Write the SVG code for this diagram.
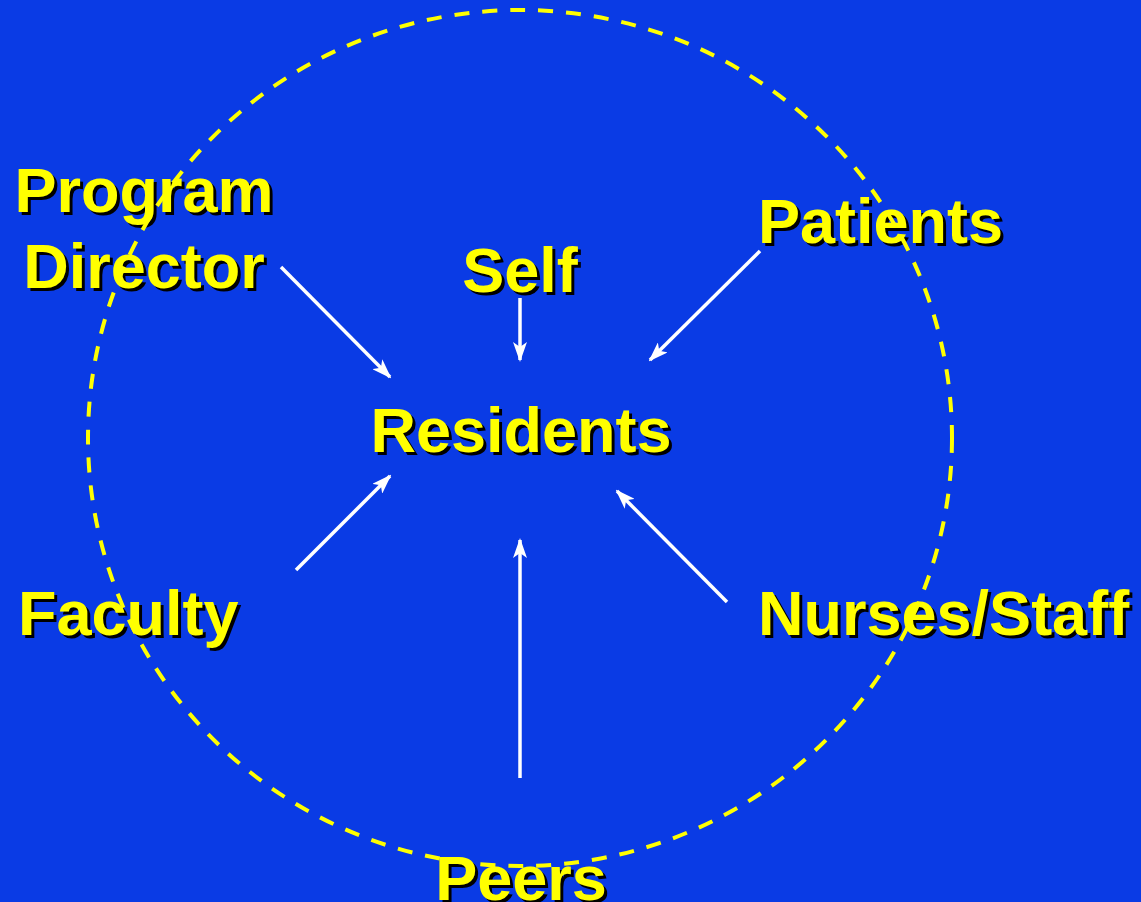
<svg xmlns="http://www.w3.org/2000/svg" width="1141" height="902" viewBox="0 0 1141 902">
<style>
.t{font-family:"Liberation Sans",Arial,sans-serif;font-weight:bold;font-size:63px;}
.sh{fill:#000000;}
.fg{fill:#FFFF00;}
.c{fill:none;stroke:#FFFFFF;stroke-width:3.5;marker-end:url(#ah);}
</style>
<defs>
<marker id="ah" viewBox="0 0 20 14" refX="18" refY="7" markerWidth="20" markerHeight="14" markerUnits="userSpaceOnUse" orient="auto">
<path d="M0,0 L20,7 L0,14 L5,7 Z" fill="#FFFFFF"/>
</marker>
</defs>
<rect width="1141" height="902" fill="#0A3BE5"/>
<g id="program-director">
<text class="t sh" x="147" y="215" text-anchor="middle">Program</text>
<text class="t fg" x="144" y="212" text-anchor="middle">Program</text>
<text class="t sh" x="147" y="291" text-anchor="middle">Director</text>
<text class="t fg" x="144" y="288" text-anchor="middle">Director</text>
</g>
<g id="self">
<text class="t sh" x="523" y="295" text-anchor="middle">Self</text>
<text class="t fg" x="520" y="292" text-anchor="middle">Self</text>
</g>
<g id="patients">
<text class="t sh" x="761" y="246">Patients</text>
<text class="t fg" x="758" y="243">Patients</text>
</g>
<g id="residents">
<text class="t sh" x="524" y="455" text-anchor="middle">Residents</text>
<text class="t fg" x="521" y="452" text-anchor="middle">Residents</text>
</g>
<g id="faculty">
<text class="t sh" x="21" y="638">Faculty</text>
<text class="t fg" x="18" y="635">Faculty</text>
</g>
<g id="nurses-staff">
<text class="t sh" x="761" y="638">Nurses/Staff</text>
<text class="t fg" x="758" y="635">Nurses/Staff</text>
</g>
<g id="peers">
<text class="t sh" x="524" y="903" text-anchor="middle">Peers</text>
<text class="t fg" x="521" y="900" text-anchor="middle">Peers</text>
</g>
<g id="connectors">
<line class="c" x1="281" y1="267" x2="390" y2="377"/>
<line class="c" x1="520" y1="298" x2="520" y2="360"/>
<line class="c" x1="760" y1="251" x2="650" y2="360"/>
<line class="c" x1="296" y1="570" x2="390" y2="476"/>
<line class="c" x1="520" y1="778" x2="520" y2="540"/>
<line class="c" x1="727" y1="602" x2="617" y2="491"/>
</g>
<ellipse id="boundary" cx="520" cy="438" rx="432" ry="428" fill="none" stroke="#FFFF00" stroke-width="4" stroke-dasharray="15,13"/>
</svg>
